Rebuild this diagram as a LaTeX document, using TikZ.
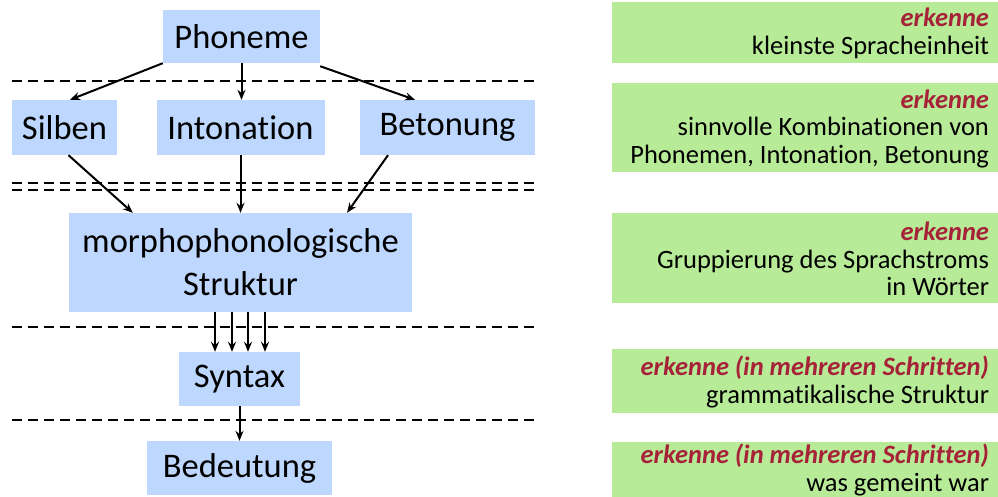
\documentclass[tikz,border=0pt]{standalone}
\usepackage{fontspec}
\setmainfont{Carlito}[RawFeature={-liga;-clig;-calt;-dlig}]
\usetikzlibrary{arrows.meta,calc}
\definecolor{boxblue}{HTML}{BDD7FE}
\definecolor{boxgreen}{HTML}{B8EB98}
\definecolor{erkred}{HTML}{A52238}
\tikzset{
  bluebox/.style={fill=boxblue,inner sep=0pt,font=\fontsize{34.5}{43}\selectfont,align=center},
  greenbox/.style={fill=boxgreen,inner sep=0pt,minimum width=386pt},
  gtext/.style={anchor=east,align=right,inner sep=0pt,font=\fontsize{26.5}{27.5}\selectfont},
  sepline/.style={line width=2pt,dash pattern=on 10pt off 6pt},
  conn/.style={line width=2pt,-{Stealth[length=10pt,width=8pt]}},
}
\newcommand{\erk}[1]{\textcolor{erkred}{\bfseries\itshape #1}}
\begin{document}
\begin{tikzpicture}[x=1pt,y=-1pt]
\useasboundingbox (0,0) rectangle (998,497);
\clip (0,0) rectangle (998,497);
% separator lines
\foreach \yy in {81,183,190,327,420}
  \draw[sepline] (12,\yy) -- (537,\yy);
% left boxes
\node[bluebox,minimum width=157pt,minimum height=53pt] (ph) at (241.5,36.5) {Phoneme};
\node[bluebox,minimum width=105pt,minimum height=55pt] (si) at (64.5,127.5) {Silben};
\node[bluebox,minimum width=168pt,minimum height=55pt] (in) at (240.5,127.5) {Intonation};
\node[bluebox,minimum width=175pt,minimum height=55pt] (be) at (447.5,127.5) {Betonung};
\node[bluebox,minimum width=343pt,minimum height=99pt] (mo) at (240.5,262.5) {morphophonologische\\Struktur};
\node[bluebox,minimum width=121pt,minimum height=54pt] (sy) at (239.5,379) {Syntax};
\node[bluebox,minimum width=185pt,minimum height=54pt] (bd) at (239.5,468) {Bedeutung};
% connectors
\draw[conn] (ph.south west) -- ([xshift=5.5pt]si.north);
\draw[conn] (ph.south) -- (ph.south |- in.north);
\draw[conn] ([yshift=-3pt]ph.south east) -- ([xshift=-32.5pt]be.north);
\draw[conn] ([xshift=4pt]si.south) -- ([xshift=64pt]mo.north west);
\draw[conn] (in.south) -- (in.south |- mo.north);
\draw[conn] ([xshift=-59.5pt]be.south) -- ([xshift=106.5pt]mo.north);
\foreach \dx in {-25.5,-8.5,7.5,24.5}
  \draw[conn] ([xshift=\dx pt]mo.south) -- ([xshift=\dx pt]mo.south |- sy.north);
\draw[conn] (sy.south) -- (sy.south |- bd.north);
% right boxes
\node[greenbox,minimum height=61pt] (g1) at (805,32.5) {};
\node[greenbox,minimum height=89pt] (g2) at (805,127.5) {};
\node[greenbox,minimum height=90pt] (g3) at (805,258) {};
\node[greenbox,minimum height=64pt] (g4) at (805,381) {};
\node[greenbox,minimum height=60pt] (g5) at (805,472) {};
\node[gtext] (t1) at ($(g1.east)+(-9,1)$) {\erk{erkenne}\\kleinste Spracheinheit};
\node[gtext] (t2) at ($(g2.east)+(-9,1)$) {\erk{erkenne}\\sinnvolle Kombinationen von\\Phonemen, Intonation, Betonung};
\node[gtext] (t3) at ($(g3.east)+(-9,1)$) {\erk{erkenne}\\Gruppierung des Sprachstroms\\in Wörter};
\node[gtext] (t4) at ($(g4.east)+(-9,1)$) {\erk{erkenne (in mehreren Schritten)}\\grammatikalische Struktur};
\node[gtext] (t5) at ($(g5.east)+(-9,-2)$) {\erk{erkenne (in mehreren Schritten)}\\was gemeint war};
\end{tikzpicture}
\end{document}
